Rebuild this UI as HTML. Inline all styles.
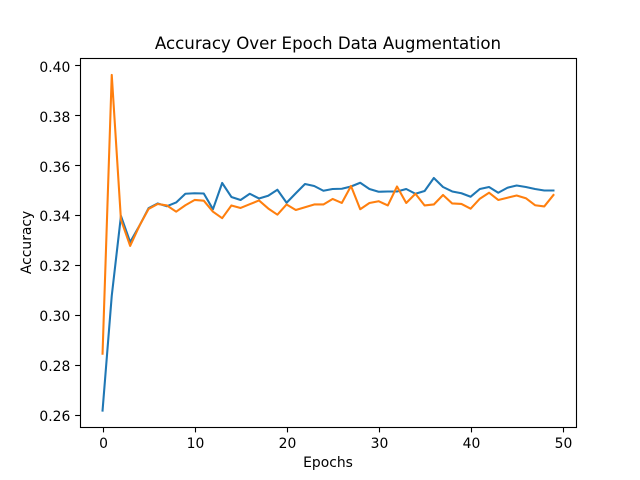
<!DOCTYPE html>
<html>
<head>
<meta charset="utf-8">
<title>Accuracy Over Epoch Data Augmentation</title>
<style>
html,body{margin:0;padding:0;background:#fff;width:640px;height:480px;overflow:hidden}
svg{display:block}
text{font-family:"DejaVu Sans","Liberation Sans",sans-serif;fill:#000}
</style>
</head>
<body>
<svg id="chart" width="640" height="480" viewBox="0 0 640 480" xmlns="http://www.w3.org/2000/svg">
  <rect x="0" y="0" width="640" height="480" fill="#fff"/>
  <rect x="80" y="57.6" width="496" height="369.6" fill="#fff"/>
  <g id="series"></g>
  <g id="x-ticks"></g>
  <g id="y-ticks"></g>
  <rect x="80.5" y="58.5" width="496" height="369" fill="none" stroke="#000" stroke-width="1.11"/>
  <text x="328" y="49" font-size="16.67" text-anchor="middle">Accuracy Over Epoch Data Augmentation</text>
  <text x="328" y="467" font-size="13.89" text-anchor="middle">Epochs</text>
  <text transform="translate(31,242.4) rotate(-90)" font-size="13.89" text-anchor="middle">Accuracy</text>
</svg>
<script>
var blueValues = [0.262,0.308,0.340,0.3295,0.336,0.3431,0.345,0.3439,0.3454,0.3489,0.3491,0.349,0.3427,0.3532,0.3476,0.3464,0.3489,0.347,0.3481,0.3505,0.3453,0.3491,0.3528,0.352,0.3501,0.3508,0.3509,0.3518,0.3533,0.3508,0.3497,0.3498,0.3498,0.3508,0.3489,0.35,0.3552,0.3516,0.3498,0.3491,0.3477,0.3508,0.3516,0.3493,0.3513,0.3522,0.3516,0.3508,0.3502,0.3502];
var orangeValues = [0.2848,0.3965,0.3385,0.328,0.336,0.3428,0.3448,0.3442,0.3417,0.3443,0.3464,0.3461,0.3417,0.3391,0.3442,0.3432,0.3447,0.3462,0.343,0.3405,0.3446,0.3424,0.3435,0.3446,0.3446,0.3468,0.3452,0.352,0.3427,0.3452,0.3459,0.3442,0.3518,0.3452,0.3489,0.3442,0.3446,0.3484,0.345,0.3448,0.3429,0.3469,0.3493,0.3464,0.3473,0.3482,0.3471,0.3443,0.3438,0.3484];
var xTickLabels = ["0","10","20","30","40","50"];
var yTickLabels = ["0.26","0.28","0.30","0.32","0.34","0.36","0.38","0.40"];

var NS = 'http://www.w3.org/2000/svg';
var plotLeft = 80, plotRight = 576, plotTop = 57.6, plotBottom = 427.2;
var xDomainMin = -2.45, xDomainMax = 51.45;
var yDomainMin = 0.25535, yDomainMax = 0.40345;

function xScale(v) {
  return plotLeft + (v - xDomainMin) / (xDomainMax - xDomainMin) * (plotRight - plotLeft);
}
function yScale(v) {
  return plotBottom - (v - yDomainMin) / (yDomainMax - yDomainMin) * (plotBottom - plotTop);
}
function pointsFor(values) {
  return values.map(function (v, i) {
    return xScale(i).toFixed(2) + ',' + yScale(v).toFixed(2);
  }).join(' ');
}
function makeSvg(tag, attrs) {
  var el = document.createElementNS(NS, tag);
  for (var k in attrs) {
    el.setAttribute(k, attrs[k]);
  }
  return el;
}

var seriesGroup = document.getElementById('series');

var blueLine = makeSvg('polyline', {points: pointsFor(blueValues), fill: 'none', stroke: '#1f77b4', 'stroke-width': 2.08, 'stroke-linejoin': 'round', 'stroke-linecap': 'square'});


seriesGroup.appendChild(blueLine);

var orangeLine = makeSvg('polyline', {points: pointsFor(orangeValues), fill: 'none', stroke: '#ff7f0e', 'stroke-width': 2.08, 'stroke-linejoin': 'round', 'stroke-linecap': 'square'});


seriesGroup.appendChild(orangeLine);

var xTickGroup = document.getElementById('x-ticks');
xTickLabels.forEach(function (label) {
  var x = Math.round(xScale(parseFloat(label))) + 0.5;
  var mark = makeSvg('line', {x1: x, x2: x, y1: plotBottom + 0.3, y2: plotBottom + 5.2, stroke: '#000', 'stroke-width': 1.11});
  
  
  xTickGroup.appendChild(mark);
  var text = makeSvg('text', {x: x, y: 448, 'font-size': 13.89, 'text-anchor': 'middle'});
  
  
  text.textContent = label;
  xTickGroup.appendChild(text);
});

var yTickGroup = document.getElementById('y-ticks');
yTickLabels.forEach(function (label) {
  var yExact = yScale(parseFloat(label));
  var y = Math.floor(yExact + 0.5) - 0.5;
  var mark = makeSvg('line', {x1: plotLeft - 4.86, x2: plotLeft, y1: y, y2: y, stroke: '#000', 'stroke-width': 1.11});
  
  
  yTickGroup.appendChild(mark);
  var text = makeSvg('text', {x: 70.3, y: Math.round(yExact + 5.5), 'font-size': 13.89, 'text-anchor': 'end'});
  
  
  text.textContent = label;
  yTickGroup.appendChild(text);
});
</script>
</body>
</html>
